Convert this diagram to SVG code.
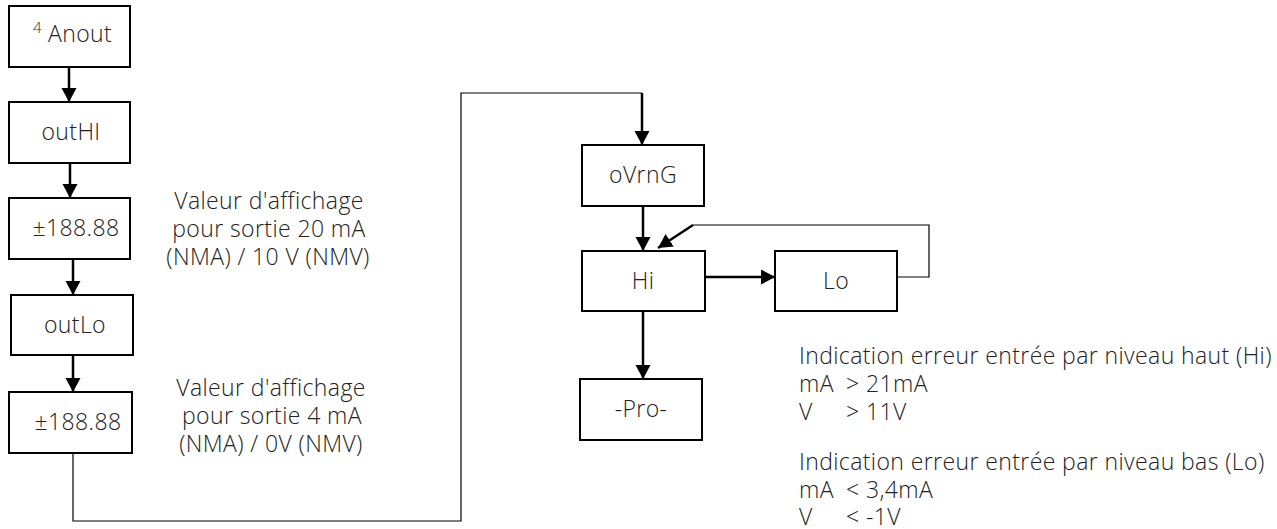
<svg xmlns="http://www.w3.org/2000/svg" width="1277" height="529" viewBox="0 0 1277 529">
<style>
.box{fill:#fff;stroke:#000;stroke-width:2}
.t{font-family:"Open Sans","Liberation Sans",sans-serif;font-weight:300;font-size:23px;letter-spacing:0.4px;fill:#222}
.c{text-anchor:middle}
.thick{fill:none;stroke:#000;stroke-width:2.5}
.thin{fill:none;stroke:#000;stroke-width:1.2}
</style>
<defs>
<marker id="ah" markerUnits="userSpaceOnUse" markerWidth="16" markerHeight="16" refX="14" refY="7.5" orient="auto">
<path d="M0,0 L14,7.5 L0,15 Z" fill="#000"/>
</marker>
</defs>
<rect width="1277" height="529" fill="#fff"/>
<g id="connectors">
<path class="thick" d="M69,67 V102" marker-end="url(#ah)"/>
<path class="thick" d="M70,163 V198" marker-end="url(#ah)"/>
<path class="thick" d="M73,259 V295" marker-end="url(#ah)"/>
<path class="thick" d="M73,355 V392" marker-end="url(#ah)"/>
<path class="thin" d="M73,453 V521 H461 V93 H642"/>
<path class="thick" d="M642,93 V145" marker-end="url(#ah)"/>
<path class="thick" d="M643,206 V251" marker-end="url(#ah)"/>
<path class="thick" d="M705,277 H775" marker-end="url(#ah)"/>
<path class="thin" d="M897,277 H929 V225 H693"/>
<path class="thick" d="M693,225 L658,248" marker-end="url(#ah)"/>
<path class="thick" d="M643,311 V379" marker-end="url(#ah)"/>
</g>
<g id="node-anout">
<rect class="box" x="9" y="6" width="121" height="61"/>
<text class="t"><tspan font-size="15" x="33" y="33">4</tspan><tspan x="48" y="42">Anout</tspan></text>
</g>
<g id="node-outhi">
<rect class="box" x="9" y="102" width="121" height="61"/>
<text class="t c" x="71" y="140">outHI</text>
</g>
<g id="node-val1">
<rect class="box" x="9" y="198" width="121" height="61"/>
<text class="t c" x="76" y="236">±188.88</text>
</g>
<g id="node-outlo">
<rect class="box" x="11" y="295" width="122" height="60"/>
<text class="t c" x="75" y="333">outLo</text>
</g>
<g id="node-val2">
<rect class="box" x="9" y="392" width="123" height="61"/>
<text class="t c" x="78" y="430">±188.88</text>
</g>
<g id="note-val1">
<text class="t c" x="269" y="209">Valeur d'affichage</text>
<text class="t c" x="269" y="237">pour sortie 20 mA</text>
<text class="t c" x="268" y="265">(NMA) / 10 V (NMV)</text>
</g>
<g id="note-val2">
<text class="t c" x="271" y="396">Valeur d'affichage</text>
<text class="t c" x="272" y="424">pour sortie 4 mA</text>
<text class="t c" x="271" y="452">(NMA) / 0V (NMV)</text>
</g>
<g id="node-ovrng">
<rect class="box" x="582" y="145" width="122" height="61"/>
<text class="t c" x="643" y="183">oVrnG</text>
</g>
<g id="node-hi">
<rect class="box" x="582" y="251" width="123" height="60"/>
<text class="t c" x="643" y="289">Hi</text>
</g>
<g id="node-lo">
<rect class="box" x="775" y="251" width="122" height="60"/>
<text class="t c" x="836" y="289">Lo</text>
</g>
<g id="node-pro">
<rect class="box" x="580" y="379" width="122" height="61"/>
<text class="t c" x="641" y="417">-Pro-</text>
</g>
<g id="note-errors">
<text class="t" x="799" y="364">Indication erreur entrée par niveau haut (Hi)</text>
<text class="t" x="799" y="392">mA</text><text class="t" x="846" y="392">&gt; 21mA</text>
<text class="t" x="799" y="420">V</text><text class="t" x="846" y="420">&gt; 11V</text>
<text class="t" x="799" y="470">Indication erreur entrée par niveau bas (Lo)</text>
<text class="t" x="799" y="498">mA</text><text class="t" x="846" y="498">&lt; 3,4mA</text>
<text class="t" x="799" y="525">V</text><text class="t" x="846" y="525">&lt; -1V</text>
</g>
</svg>
